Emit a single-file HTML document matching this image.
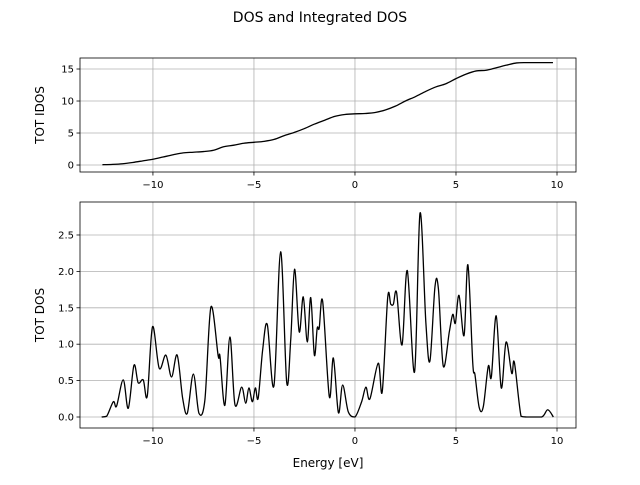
<!DOCTYPE html>
<html><head><meta charset="utf-8"><style>
body{margin:0;background:#fff}
svg text{font-family:"DejaVu Sans","Liberation Sans",sans-serif;fill:#000}
</style></head><body>
<svg id="c" width="640" height="480" xmlns="http://www.w3.org/2000/svg">
<rect width="640" height="480" fill="#fff"/>
<text x="320" y="22" font-size="14" text-anchor="middle">DOS and Integrated DOS</text>
<g id="top"></g>
<g id="bot"></g>
<text transform="translate(44,115) rotate(-90)" font-size="12" text-anchor="middle">TOT IDOS</text>
<text transform="translate(44,315) rotate(-90)" font-size="12" text-anchor="middle">TOT DOS</text>
<text x="328" y="467" font-size="12" text-anchor="middle">Energy [eV]</text>
</svg>
<script>
const xTicks=[-10,-5,0,5,10];
const idosTicks=[0,5,10,15];
const dosTicks=[0,0.5,1,1.5,2,2.5];
const dosTickLabels=["0.0","0.5","1.0","1.5","2.0","2.5"];
const idosE=[-12.5,-12,-11.5,-11,-10.5,-10,-9.5,-9,-8.5,-8,-7.5,-7,-6.5,-6,-5.5,-5,-4.5,-4,-3.5,-3,-2.5,-2,-1.5,-1,-0.5,0,0.5,1,1.5,2,2.5,3,3.5,4,4.5,5,5.5,6,6.5,7,7.5,8,8.5,9,9.8];
const idosV=[0.05,0.1,0.2,0.4,0.65,0.9,1.25,1.6,1.9,2.0,2.1,2.3,2.85,3.1,3.4,3.55,3.7,4.0,4.6,5.1,5.7,6.4,7.0,7.6,7.9,8.0,8.05,8.2,8.6,9.2,10.0,10.7,11.5,12.2,12.7,13.5,14.2,14.7,14.8,15.2,15.6,15.95,16.0,16.0,16.0];
const dosE=[-12.54,-12.29,-11.96,-11.80,-11.47,-11.22,-10.94,-10.73,-10.48,-10.28,-10.02,-9.69,-9.36,-9.08,-8.80,-8.53,-8.30,-8.00,-7.72,-7.43,-7.13,-6.77,-6.68,-6.44,-6.19,-5.94,-5.61,-5.41,-5.25,-5.08,-4.93,-4.79,-4.57,-4.34,-4.01,-3.68,-3.38,-3.18,-2.99,-2.76,-2.56,-2.36,-2.19,-2.01,-1.87,-1.77,-1.60,-1.27,-1.07,-0.82,-0.61,-0.33,0,0.33,0.54,0.74,1.15,1.35,1.62,1.77,1.90,2.06,2.33,2.59,2.95,3.22,3.51,3.71,3.96,4.13,4.37,4.67,4.84,4.97,5.15,5.40,5.59,5.83,5.94,6.15,6.35,6.60,6.75,6.99,7.24,7.48,7.76,7.89,8.22,8.5,9.24,9.54,9.82];
const dosV=[0,0.01,0.21,0.15,0.51,0.12,0.71,0.47,0.51,0.29,1.24,0.67,0.85,0.55,0.85,0.26,0.05,0.59,0.05,0.23,1.51,0.84,0.83,0.16,1.10,0.17,0.41,0.19,0.40,0.21,0.40,0.26,0.92,1.27,0.43,2.27,0.48,1.06,2.03,1.17,1.65,1.03,1.64,0.85,1.22,1.22,1.59,0.28,0.81,0.06,0.44,0.07,0,0.21,0.41,0.25,0.74,0.35,1.64,1.55,1.55,1.71,0.99,2.01,0.62,2.80,1.29,0.77,1.79,1.76,0.70,1.17,1.41,1.29,1.67,1.12,2.09,0.74,0.58,0.13,0.14,0.70,0.55,1.39,0.40,1.03,0.60,0.75,0.01,0,0,0.10,0];
const NS="http://www.w3.org/2000/svg";
const L=80,R=576,E0=-13.61,E1=10.94;
const sx=e=>L+(e-E0)/(E1-E0)*(R-L);
function mk(tag,attrs,parent){const el=document.createElementNS(NS,tag);for(const k in attrs)el.setAttribute(k,attrs[k]);parent.appendChild(el);return el;}
function smooth(xs,ys,ymax){const cl=y=>Math.min(y,ymax);let d="M"+xs[0].toFixed(2)+","+ys[0].toFixed(2);for(let i=0;i<xs.length-1;i++){const x0=xs[Math.max(i-1,0)],y0=ys[Math.max(i-1,0)],x3=xs[Math.min(i+2,xs.length-1)],y3=ys[Math.min(i+2,xs.length-1)];const c1x=xs[i]+(xs[i+1]-x0)/6,c1y=cl(ys[i]+(ys[i+1]-y0)/6),c2x=xs[i+1]-(x3-xs[i])/6,c2y=cl(ys[i+1]-(y3-ys[i])/6);d+=" C"+c1x.toFixed(2)+","+c1y.toFixed(2)+" "+c2x.toFixed(2)+","+c2y.toFixed(2)+" "+xs[i+1].toFixed(2)+","+ys[i+1].toFixed(2);}return d;}
function axes(g,T,B,v0,v1,ticks,labels,E,V,nm){
 const sy=v=>B-(v-v0)/(v1-v0)*(B-T);
 xTicks.forEach(t=>{const x=sx(t);
  const gl=mk("line",{x1:x,x2:x,y1:T,y2:B,stroke:"#b0b0b0","stroke-width":0.8},g);
  
  const tk=mk("line",{x1:x,x2:x,y1:B,y2:B+3.5,stroke:"#000","stroke-width":0.8},g);
  
  const tx=mk("text",{x:x,y:B+16,"font-size":10,"text-anchor":"middle"},g);tx.textContent=String(t).replace("-","−");
  });
 ticks.forEach((t,i)=>{const y=sy(t);
  const gl=mk("line",{x1:L,x2:R,y1:y,y2:y,stroke:"#b0b0b0","stroke-width":0.8},g);
  
  const tk=mk("line",{x1:L-3.5,x2:L,y1:y,y2:y,stroke:"#000","stroke-width":0.8},g);
  
  const tx=mk("text",{x:L-6,y:y+3.5,"font-size":10,"text-anchor":"end"},g);tx.textContent=labels[i];
  });
 const p=mk("path",{d:smooth(E.map(sx),V.map(sy),sy(0)),fill:"none",stroke:"#000","stroke-width":1.3},g);
 
 const fr=mk("rect",{x:L,y:T,width:R-L,height:B-T,fill:"none",stroke:"#000","stroke-width":0.8},g);
 
}
axes(document.getElementById("top"),58,172,-1.09,16.72,idosTicks,idosTicks.map(String),idosE,idosV,"idos-line");
axes(document.getElementById("bot"),202,428,-0.151,2.953,dosTicks,dosTickLabels,dosE,dosV,"dos-line");
</script>
</body></html>
